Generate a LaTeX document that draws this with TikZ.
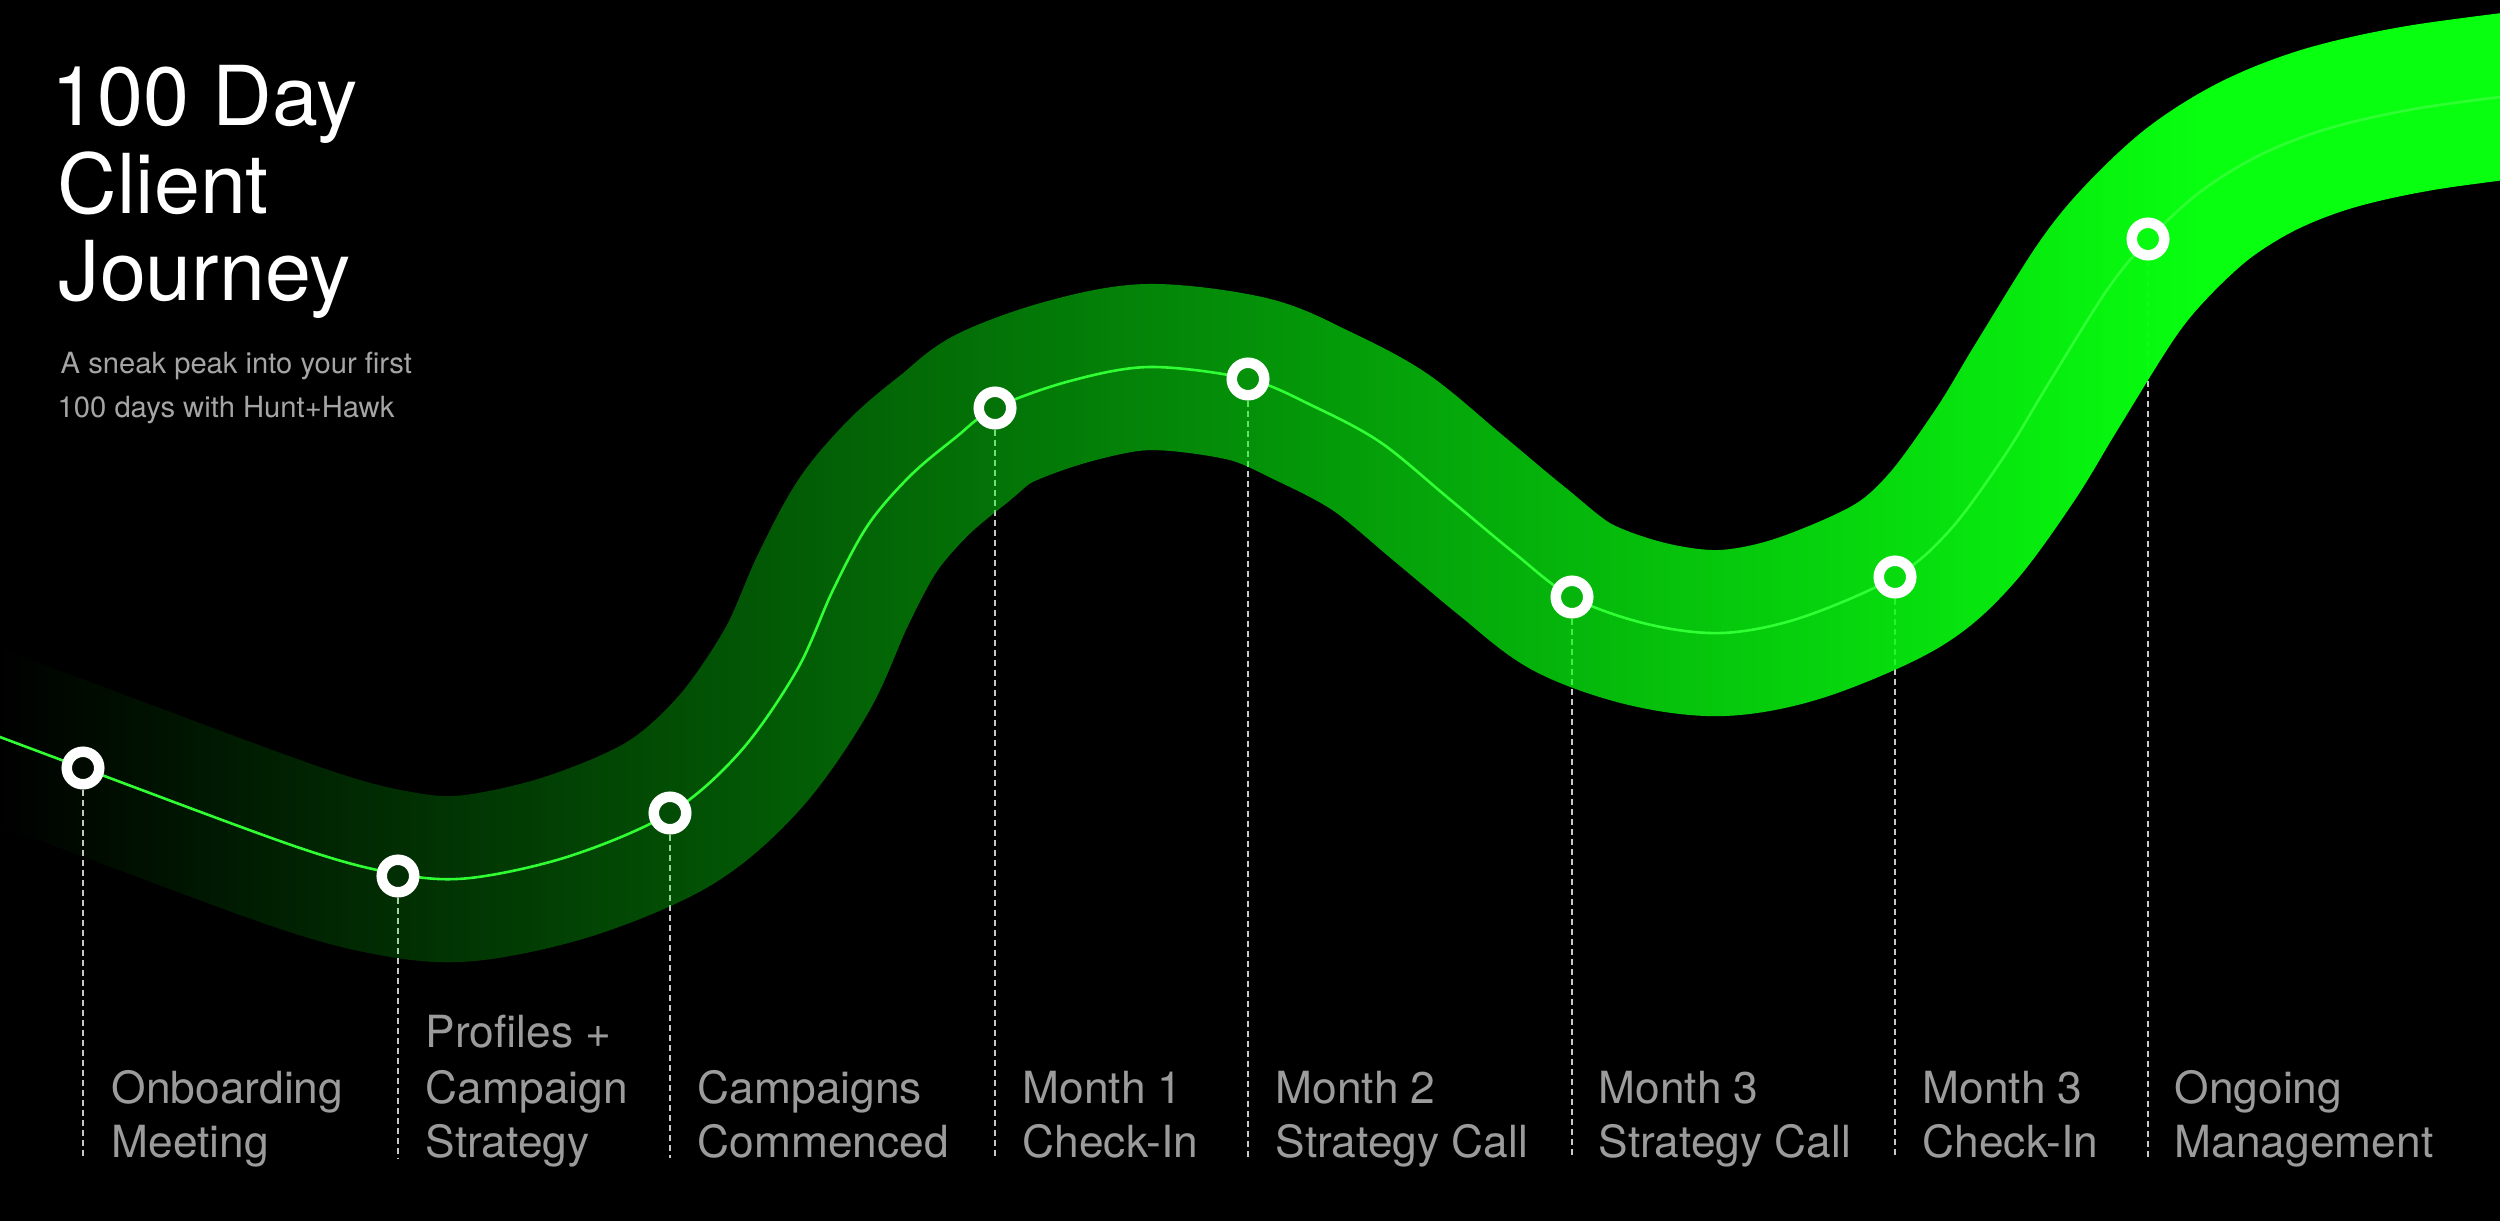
\documentclass[tikz,border=0pt]{standalone}
\usepackage{fontspec}
\setmainfont{TeX Gyre Heros}
\usetikzlibrary{fadings}
\definecolor{bandgreen}{RGB}{8,255,16}
\definecolor{linegreen}{RGB}{48,255,52}
\definecolor{dashgray}{RGB}{200,200,200}
\definecolor{labelgray}{RGB}{155,155,155}
\definecolor{subgray}{RGB}{165,165,165}
\pgfdeclarelayer{dashlayer}
\pgfdeclarelayer{bandlayer}
\pgfdeclarelayer{linelayer}
\pgfsetlayers{dashlayer,bandlayer,linelayer,main}
\begin{tikzfadingfrompicture}[name=bandfade]
  \fill[transparent!100] (-13.5,-7) rectangle (-12.5,7);
  \shade[left color=transparent!100, right color=transparent!0] (-12.5,-7) rectangle (9.5,7);
  \fill[transparent!0] (9.5,-7) rectangle (13.5,7);
\end{tikzfadingfrompicture}
\begin{document}
\begin{tikzpicture}[x=0.01cm, y=-0.01cm,
  ring/.style={circle, draw=white, line width=0.105cm, minimum size=0.325cm, inner sep=0pt},
  dashline/.style={draw=dashgray, line width=0.02cm, dash pattern=on 0.06cm off 0.04cm},
  guideline/.style={draw=linegreen, line width=0.026cm},
  bandcurve/.style={insert path={plot[smooth, tension=0.55] coordinates {
    (-40,722) (83,768) (300,848) (398,874) (470,878) (570,856) (670,813)
    (740,752) (797,670) (833,590) (868,525) (910,476) (955,438) (995,408) (1070,381)
    (1150,367) (1248,379) (1313,406) (1380,442) (1447,497) (1513,552)
    (1572,597) (1647,624) (1722,633) (1800,618) (1895,577) (1950,530)
    (2005,455) (2047,386) (2107,290) (2148,240) (2200,192) (2260,155)
    (2330,128) (2420,108) (2540,92)}}},
  titletext/.style={anchor=base west, inner sep=0pt, text=white, font=\fontsize{23.5}{27}\selectfont},
  subtext/.style={anchor=base west, inner sep=0pt, text=subgray, font=\fontsize{8.3}{10}\selectfont},
  labeltext/.style={anchor=base west, inner sep=0pt, text=labelgray, font=\fontsize{12.6}{15}\selectfont}
]
\useasboundingbox (0,0) rectangle (2500,1221);

% markers
\node[ring, fill=bandgreen!4!black]  (c1) at (83,768) {};
\node[ring, fill=bandgreen!18!black] (c2) at (398,876) {};
\node[ring, fill=bandgreen!30!black] (c3) at (670,813) {};
\node[ring, fill=bandgreen!45!black] (c4) at (995,408) {};
\node[ring, fill=bandgreen!57!black] (c5) at (1248,379) {};
\node[ring, fill=bandgreen!71!black] (c6) at (1572,597) {};
\node[ring, fill=bandgreen!86!black] (c7) at (1895,577) {};
\node[ring, fill=bandgreen!98!black] (c8) at (2148,239) {};

\coordinate (d1) at (83,1158);
\coordinate (d2) at (398,1158);
\coordinate (d3) at (670,1158);
\coordinate (d4) at (995,1158);
\coordinate (d5) at (1248,1158);
\coordinate (d6) at (1572,1158);
\coordinate (d7) at (1895,1158);
\coordinate (d8) at (2148,1158);

\begin{pgfonlayer}{dashlayer}
  \fill[black] (0,0) rectangle (2500,1221);
  \foreach \i in {1,...,8} { \draw[dashline] (c\i.south) -- (d\i); }
\end{pgfonlayer}

\begin{pgfonlayer}{bandlayer}
  \draw[line width=1.66cm, bandgreen, path fading=bandfade, fit fading=false,
        fading transform={shift={(1250,610)}}, bandcurve];
\end{pgfonlayer}

\begin{pgfonlayer}{linelayer}
  \draw[guideline, bandcurve];
\end{pgfonlayer}

% title
\node[titletext] (t1) at (51,125) {100 Day};
\node[titletext] (t2) at (57,213) {Client};
\node[titletext] (t3) at (58,300) {Journey};
\node[subtext] (s1) at (60,373) {A sneak peak into your first};
\node[subtext] (s2) at (57,417) {100 days with Hunt+Hawk};

% labels
\node[labeltext] (l1a) at (111,1103) {Onboarding};
\node[labeltext] (l1b) at (111,1157) {Meeting};
\node[labeltext] (l2a) at (425,1047) {Profiles +};
\node[labeltext] (l2b) at (425,1103) {Campaign};
\node[labeltext] (l2c) at (425,1157) {Strategy};
\node[labeltext] (l3a) at (697,1103) {Campaigns};
\node[labeltext] (l3b) at (697,1157) {Commenced};
\node[labeltext] (l4a) at (1022,1103) {Month 1};
\node[labeltext] (l4b) at (1022,1157) {Check-In};
\node[labeltext] (l5a) at (1275,1103) {Month 2};
\node[labeltext] (l5b) at (1275,1157) {Strategy Call};
\node[labeltext] (l6a) at (1598,1103) {Month 3};
\node[labeltext] (l6b) at (1598,1157) {Strategy Call};
\node[labeltext] (l7a) at (1922,1103) {Month 3};
\node[labeltext] (l7b) at (1922,1157) {Check-In};
\node[labeltext] (l8a) at (2174,1103) {Ongoing};
\node[labeltext] (l8b) at (2174,1157) {Management};
\end{tikzpicture}
\end{document}
